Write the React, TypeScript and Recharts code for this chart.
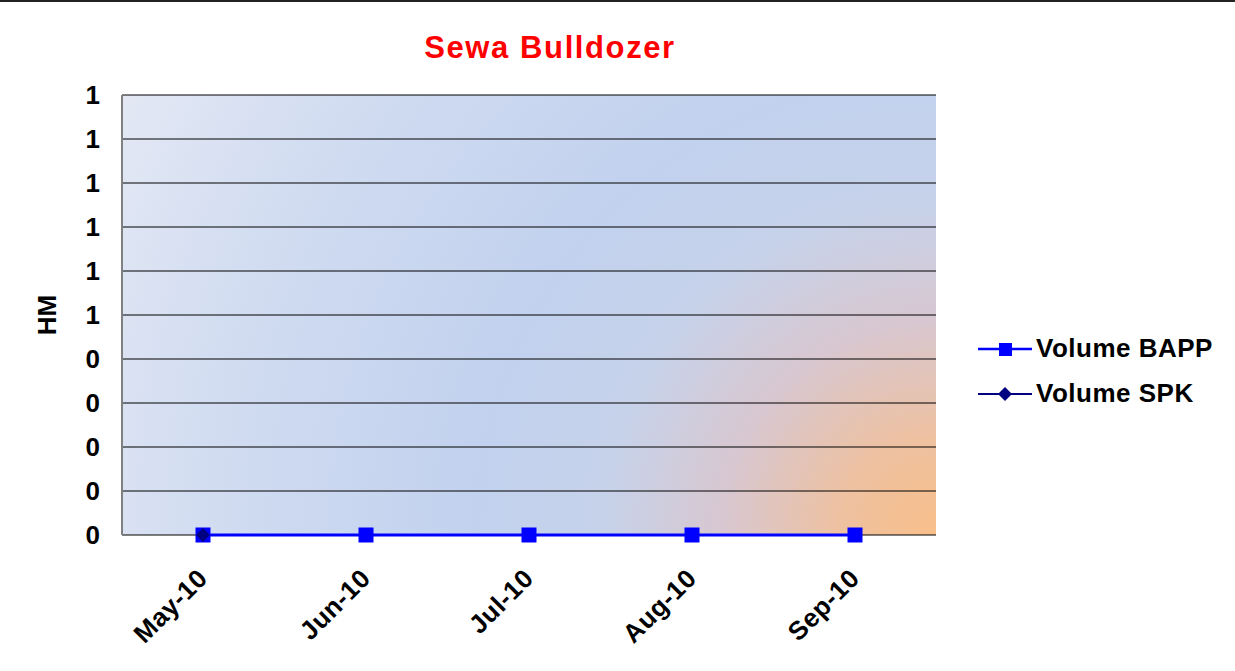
import { LineChart, Line, XAxis, YAxis, CartesianGrid } from 'recharts';

const months = ['May-10', 'Jun-10', 'Jul-10', 'Aug-10', 'Sep-10'];
const volumeBapp = [0, 0, 0, 0, 0];
const volumeSpk: (number | null)[] = [0, null, null, null, null];
const yTicks = [0, 0.1, 0.2, 0.3, 0.4, 0.5, 0.6, 0.7, 0.8, 0.9, 1];

const data = months.map((m, i) => ({ month: m, bapp: volumeBapp[i], spk: volumeSpk[i] }));

const FONT = 'Arial, "Liberation Sans", Helvetica, sans-serif';

const SquareDot = (props: any) => {
  const { cx, cy, index } = props;
  if (cx == null || cy == null) return <g key={index} />;
  return <rect key={index} x={cx - 7.5} y={cy - 7.5} width={15} height={15} fill="#0000ff" />;
};

const DiamondDot = (props: any) => {
  const { cx, cy, index } = props;
  if (cx == null || cy == null) return <g key={index} />;
  const r = 7;
  return <polygon key={index} points={`${cx},${cy - r} ${cx + r},${cy} ${cx},${cy + r} ${cx - r},${cy}`} fill="#000080" />;
};

const MonthTick = (props: any) => {
  const { x, y, payload } = props;
  return (
    <text
      x={x + 6}
      y={y + 43}
      textAnchor="end"
      transform={`rotate(-45, ${x + 6}, ${y + 43})`}
      fontFamily={FONT}
      fontWeight="bold"
      fontSize={26}
      letterSpacing={0.5}
      fill="#000"
    >
      {payload.value}
    </text>
  );
};

export default function App() {
  return (
    <div style={{ position: 'absolute', left: 0, top: 0, width: 1235, height: 671, background: '#fff' }}>
      <svg width={0} height={0} style={{ position: 'absolute' }}>
        <defs>
          {/* Excel "from corner" fill: orange in bottom-right, blue, then pale lavender top-left */}
          <radialGradient id="plotBg" gradientUnits="userSpaceOnUse" cx={936} cy={535} r={925} fx={936} fy={535}>
            <stop offset="0%" stopColor="#f8bf8a" />
            <stop offset="10%" stopColor="#efc19f" />
            <stop offset="23%" stopColor="#d8c7d0" />
            <stop offset="36%" stopColor="#c6d2ea" />
            <stop offset="50%" stopColor="#c2d1ee" />
            <stop offset="78%" stopColor="#d1dcf1" />
            <stop offset="100%" stopColor="#e3e8f4" />
          </radialGradient>
        </defs>
      </svg>
      <div style={{ position: 'absolute', left: 0, top: 0, width: 1235, borderTop: '2px solid #222' }} />
      <div
        style={{
          position: 'absolute', left: 300, top: 28, width: 500, textAlign: 'center',
          fontFamily: FONT, fontWeight: 'bold', fontSize: 31, letterSpacing: 1.6, color: '#ff0000', lineHeight: '40px',
        }}
      >
        Sewa Bulldozer
      </div>
      <LineChart width={1235} height={671} data={data} margin={{ top: 95, right: 299, bottom: 0, left: 0 }}>
        <CartesianGrid fill="url(#plotBg)" fillOpacity={1} vertical={false} stroke="#000" strokeWidth={1} strokeOpacity={1} />
        <XAxis
          dataKey="month"
          padding={{ left: 81, right: 81 }}
          height={136}
          tickLine={false}
          tickSize={0}
          axisLine={false}
          tick={<MonthTick />}
          interval={0}
        />
        <XAxis xAxisId="top" orientation="top" dataKey="month" height={0} tick={false} tickLine={false} axisLine={{ stroke: '#808080', strokeWidth: 2 }} />
        <YAxis
          domain={[0, 1]}
          ticks={yTicks}
          width={122}
          tickLine={false}
          tickSize={0}
          tickMargin={22}
          axisLine={{ stroke: '#808080', strokeWidth: 2 }}
          tickFormatter={(v: number) => String(Math.round(v))}
          tick={{ fontFamily: FONT, fontWeight: 'bold', fontSize: 26, fill: '#000' }}
          label={{
            content: (p: any) => {
              const vb = p.viewBox;
              const cx = vb.x + 47;
              const cy = vb.y + vb.height / 2;
              return (
                <text x={cx} y={cy} textAnchor="middle" dominantBaseline="central" transform={`rotate(-90, ${cx}, ${cy})`}
                  fontFamily={FONT} fontWeight="bold" fontSize={26} fill="#000">
                  HM
                </text>
              );
            },
          }}
        />
        <YAxis yAxisId="right" orientation="right" domain={[0, 1]} width={0} tick={false} tickLine={false} axisLine={{ stroke: '#808080', strokeWidth: 3 }} />
        <Line
          type="linear"
          dataKey="bapp"
          name="Volume BAPP"
          stroke="#0000ff"
          strokeWidth={3}
          dot={<SquareDot />}
          activeDot={false}
          isAnimationActive={false}
        />
        <Line
          type="linear"
          dataKey="spk"
          name="Volume SPK"
          stroke="#000080"
          strokeWidth={2}
          dot={<DiamondDot />}
          activeDot={false}
          isAnimationActive={false}
        />
      </LineChart>
      <div style={{ position: 'absolute', left: 976, top: 326, fontFamily: FONT, fontWeight: 'bold', fontSize: 26, letterSpacing: 0.5, color: '#000' }}>
        <div style={{ display: 'flex', alignItems: 'center', height: 45 }}>
          <svg width={58} height={20}>
            <line x1={2} y1={10} x2={56} y2={10} stroke="#0000ff" strokeWidth={2.5} />
            <rect x={23} y={4} width={13} height={13} fill="#0000ff" />
          </svg>
          <span style={{ marginLeft: 2 }}>Volume BAPP</span>
        </div>
        <div style={{ display: 'flex', alignItems: 'center', height: 45 }}>
          <svg width={58} height={20}>
            <line x1={2} y1={10} x2={56} y2={10} stroke="#000080" strokeWidth={2} />
            <polygon points="29,3 36,10 29,17 22,10" fill="#000080" />
          </svg>
          <span style={{ marginLeft: 2 }}>Volume SPK</span>
        </div>
      </div>
    </div>
  );
}
